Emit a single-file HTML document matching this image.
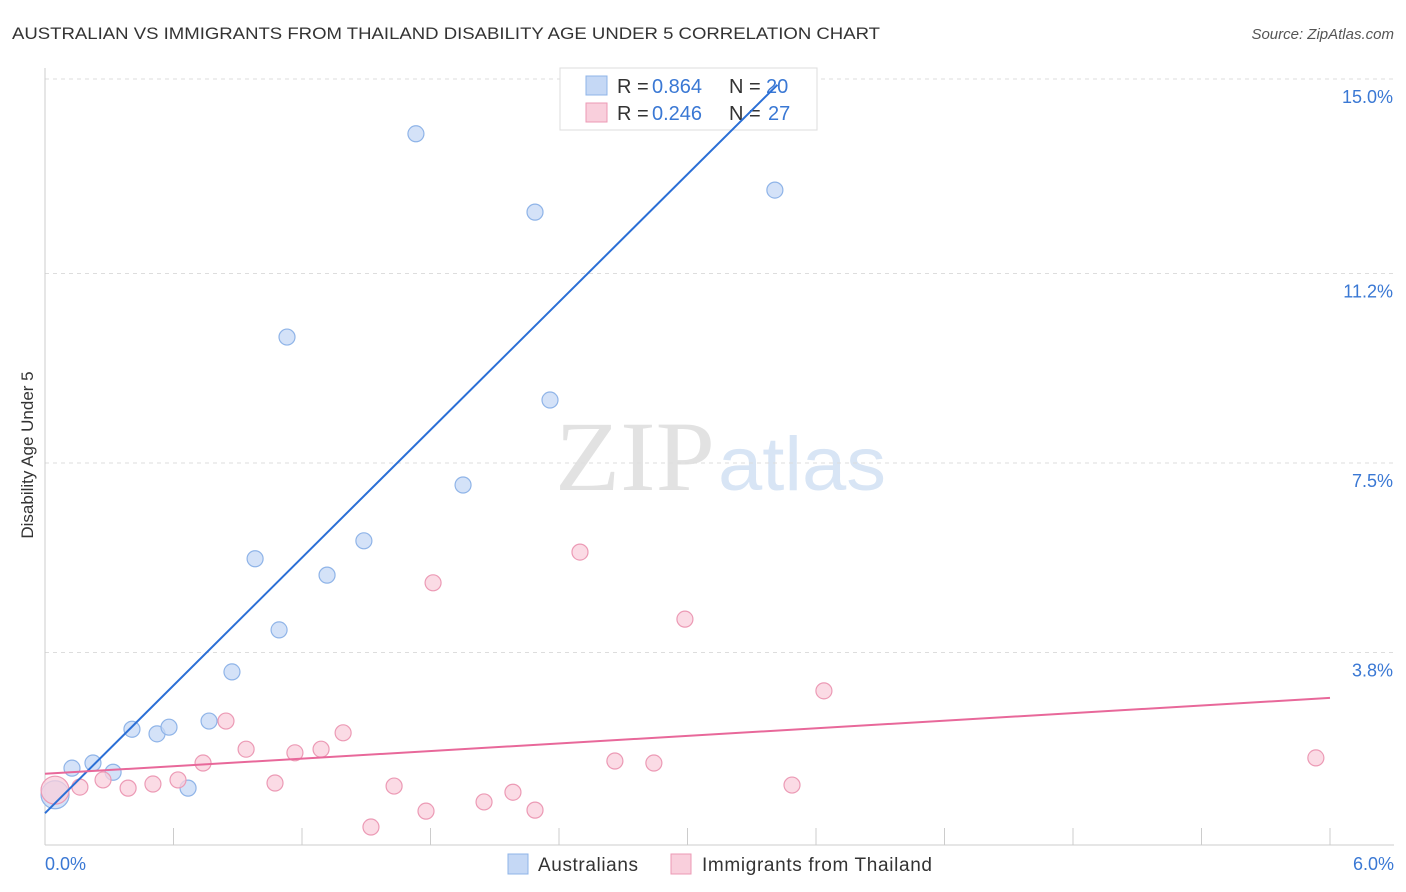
<!DOCTYPE html>
<html><head><meta charset="utf-8"><style>
body{margin:0;background:#fff;font-family:"Liberation Sans",sans-serif;}
svg{display:block}
</style></head><body>
<svg id="chart" width="1406" height="892">
<text x="12" y="39" font-size="17" fill="#333" textLength="868" lengthAdjust="spacingAndGlyphs">AUSTRALIAN VS IMMIGRANTS FROM THAILAND DISABILITY AGE UNDER 5 CORRELATION CHART</text>
<text x="1394" y="39" font-size="15" fill="#555" font-style="italic" text-anchor="end">Source: ZipAtlas.com</text>
<text x="33" y="455" font-size="17" fill="#333" text-anchor="middle" transform="rotate(-90 33 455)">Disability Age Under 5</text>
<text x="555" y="490" font-size="100" fill="#e2e2e2" font-family="Liberation Serif,serif" textLength="160" lengthAdjust="spacingAndGlyphs">ZIP</text>
<text x="718" y="490" font-size="76" fill="#d8e5f5" textLength="168" lengthAdjust="spacingAndGlyphs">atlas</text>
<g id="grid"></g>
<g>
<rect x="560" y="68" width="257" height="62" fill="#fff" stroke="#ddd"/>
<rect x="586" y="76" width="21" height="19" fill="#c5d8f5" stroke="#8fb4e8"/>
<rect x="586" y="103" width="21" height="19" fill="#f9cfdc" stroke="#ec9ab5"/>
<text x="617" y="93" font-size="20" fill="#333">R =</text><text x="652" y="93" font-size="20" fill="#3a78d4">0.864</text>
<text x="729" y="93" font-size="20" fill="#333">N =</text><text x="766" y="93" font-size="20" fill="#3a78d4">20</text>
<text x="617" y="120" font-size="20" fill="#333">R =</text><text x="652" y="120" font-size="20" fill="#3a78d4">0.246</text>
<text x="729" y="120" font-size="20" fill="#333">N =</text><text x="768" y="120" font-size="20" fill="#3a78d4">27</text>
</g>
<g id="marks"></g>
<g>
<rect x="508" y="854" width="20" height="20" fill="#c5d8f5" stroke="#8fb4e8"/>
<text x="538" y="871" font-size="19" fill="#333" textLength="100">Australians</text>
<rect x="671" y="854" width="20" height="20" fill="#f9cfdc" stroke="#ec9ab5"/>
<text x="702" y="871" font-size="19" fill="#333" textLength="230">Immigrants from Thailand</text>
</g>
</svg>
<script>
const yTicks=[15.0,11.2,7.5,3.8];
const yTickLabels=["15.0%","11.2%","7.5%","3.8%"];
const xTickLabels=["0.0%","6.0%"];
const blueX=[0.047,0.126,0.224,0.318,0.406,0.523,0.579,0.668,0.766,0.873,0.981,1.093,1.130,1.317,1.489,1.732,1.952,2.288,2.358,3.408];
const blueY=[1.02,1.54,1.64,1.46,2.30,2.21,2.34,1.15,2.46,3.42,5.63,4.24,9.96,5.31,5.98,13.93,7.07,12.40,8.73,12.83];
const pinkX=[0.047,0.163,0.271,0.388,0.504,0.621,0.738,0.845,0.939,1.074,1.167,1.289,1.392,1.522,1.630,1.779,1.812,2.050,2.185,2.288,2.498,2.661,2.843,2.988,3.488,3.637,5.934];
const pinkY=[1.11,1.17,1.31,1.15,1.23,1.31,1.64,2.46,1.91,1.25,1.84,1.91,2.23,0.39,1.19,0.70,5.16,0.88,1.07,0.72,5.76,1.68,1.64,4.45,1.21,3.05,1.74];
const blueLine=[0.66,4.16];
const pinkLine=[1.43,0.247];
const NS="http://www.w3.org/2000/svg";
const sx=v=>45+v/6*1285, sy=v=>847-v*51.2;
function mk(t,a,p){const e=document.createElementNS(NS,t);for(const k in a)e.setAttribute(k,a[k]);p.appendChild(e);return e;}
const g=document.getElementById('grid'), m=document.getElementById('marks');
yTicks.forEach((v,i)=>{
 const l=mk('line',{x1:45,x2:1394,y1:sy(v),y2:sy(v),stroke:'#ddd','stroke-dasharray':'4,4'},g);
 
 
 const t=mk('text',{x:1393,y:sy(v)+24,'font-size':18,fill:'#3a78d4','text-anchor':'end'},g);t.textContent=yTickLabels[i];
 
 
});
mk('line',{x1:45,x2:45,y1:68,y2:845,stroke:'#ccc'},g);
mk('line',{x1:45,x2:1394,y1:845,y2:845,stroke:'#ccc'},g);
for(let i=0;i<=10;i++){const x=sx(i*0.6);mk('line',{x1:x,x2:x,y1:828,y2:845,stroke:'#ccc'},g);}
[[0,'start',45],[6,'end',1394]].forEach((d,i)=>{const t=mk('text',{x:d[2],y:870,'font-size':18,fill:'#3a78d4','text-anchor':d[1]},g);t.textContent=xTickLabels[i];
 
 });
function pts(X,Y,f,s,name){X.forEach((x,i)=>{const c=mk('circle',{cx:sx(x),cy:sy(Y[i]),r:i==0?14:8,fill:f,'fill-opacity':0.75,stroke:s,'stroke-width':1.2},m);
 
 });}
pts(blueX,blueY,'#c5d8f5','#8fb4e8','australians-point');
pts(pinkX,pinkY,'#f9cfdc','#ec9ab5','thailand-point');
const bl=mk('line',{x1:sx(0),y1:sy(blueLine[0]),x2:sx(3.42),y2:sy(blueLine[0]+blueLine[1]*3.42),stroke:'#2b6fd6','stroke-width':2},m);


const pl=mk('line',{x1:sx(0),y1:sy(pinkLine[0]),x2:sx(6),y2:sy(pinkLine[0]+pinkLine[1]*6),stroke:'#e8689a','stroke-width':2},m);


</script>
</body></html>
